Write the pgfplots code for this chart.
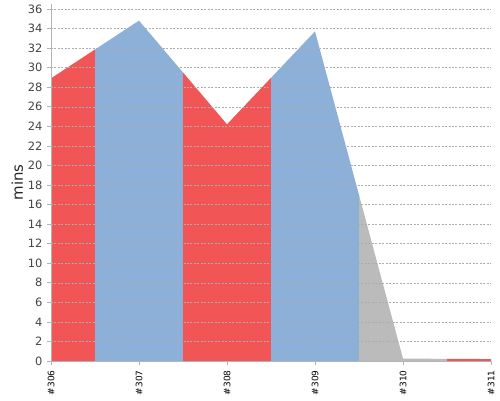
\documentclass[border=0pt]{standalone}
\usepackage{fontspec}
\setmainfont{DejaVu Sans}
\usepackage{pgfplots}
\pgfplotsset{compat=1.18}
\usetikzlibrary{calc}
\definecolor{failred}{RGB}{242,85,85}
\definecolor{okblue}{RGB}{141,176,217}
\definecolor{abortgray}{RGB}{187,187,187}
\definecolor{axgray}{RGB}{180,180,180}
\definecolor{txtgray}{RGB}{68,68,68}

\begin{document}
\begin{tikzpicture}
\begin{axis}[
    scale only axis,
    width=440bp, height=357bp,
    xmin=0, xmax=5,
    ymin=0, ymax=36.5,
    axis on top,
    axis x line=bottom, axis y line=left,
    axis line style={-, draw=axgray, line width=0.8pt},
    /pgf/number format/assume math mode=true,
    xtick={0,1,2,3,4,5},
    xticklabels={\#306,\#307,\#308,\#309,\#310,\#311},
    x tick label style={rotate=90, anchor=east, font=\fontsize{9}{10}\selectfont, text=black, xshift=-2bp},
    ytick={0,2,...,36},
    y tick label style={font=\fontsize{11.5}{13}\selectfont, text=txtgray, xshift=-1bp},
    tick align=outside,
    major tick length=4bp,
    tick style={draw=axgray, line width=0.6pt},
    ymajorgrids=true,
    major grid style={draw=gray!65, dash pattern=on 2pt off 1.5pt, line width=0.35pt},
    ylabel={mins},
    ylabel style={font=\fontsize{15}{17}\selectfont, text=black!85, yshift=-2bp},
    every axis plot/.append style={draw=none},
]
% build durations (mins), colour changes half way between builds
\addplot[fill=failred] coordinates {(0,28.9) (0.5,31.85)} \closedcycle;
\addplot[fill=okblue] coordinates {(0.5,31.85) (1,34.8) (1.5,29.5)} \closedcycle;
\addplot[fill=failred] coordinates {(1.5,29.5) (2,24.2) (2.5,28.95)} \closedcycle;
\addplot[fill=okblue] coordinates {(2.5,28.95) (3,33.7) (3.5,16.975)} \closedcycle;
\addplot[fill=abortgray] coordinates {(3.5,16.975) (4,0.25) (4.5,0.22)} \closedcycle;
\addplot[fill=failred] coordinates {(4.5,0.22) (5,0.2)} \closedcycle;
\end{axis}
\pgfresetboundingbox
\useasboundingbox ($(current axis.south west)+(-51bp,-39bp)$) rectangle ($(current axis.north east)+(9bp,4bp)$);
\end{tikzpicture}
\end{document}
